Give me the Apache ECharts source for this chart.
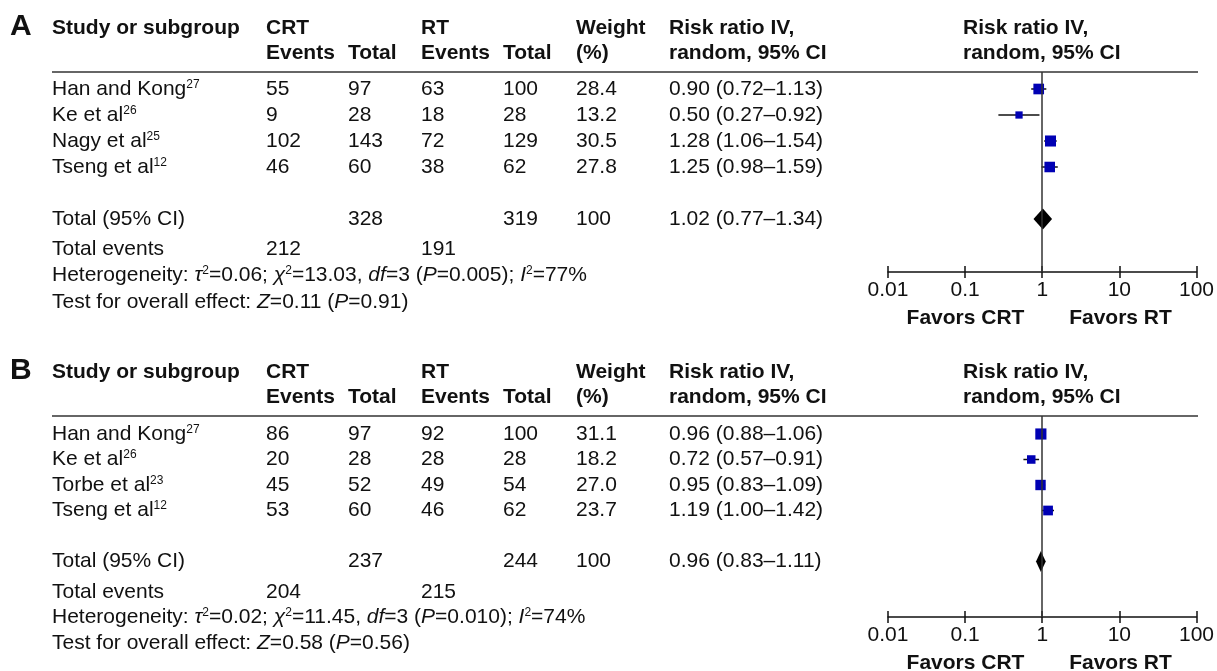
<!DOCTYPE html>
<html>
<head>
<meta charset="utf-8">
<script src="https://cdn.jsdelivr.net/npm/echarts@6/dist/echarts.min.js"></script>
<style>
html,body{margin:0;padding:0;background:#fff;}
#main{width:1217px;height:671px;}
</style>
</head>
<body>
<div id="main"></div>
<script>
// ---- panel A data
var studiesA = ['Han and Kong', 'Ke et al', 'Nagy et al', 'Tseng et al'];
var refsA = ['27', '26', '25', '12'];
var crtEventsA = [55, 9, 102, 46];
var crtTotalA = [97, 28, 143, 60];
var rtEventsA = [63, 18, 72, 38];
var rtTotalA = [100, 28, 129, 62];
var weightA = [28.4, 13.2, 30.5, 27.8];
var rrA = [0.90, 0.50, 1.28, 1.25];
var lowA = [0.72, 0.27, 1.06, 0.98];
var highA = [1.13, 0.92, 1.54, 1.59];
var totalA = {crtTotal: 328, rtTotal: 319, weight: 100, rr: 1.02, low: 0.77, high: 1.34, crtEvents: 212, rtEvents: 191};
var statsA = {tau2: '0.06', chi2: '13.03', df: 3, p: '0.005', i2: 77, z: '0.11', pz: '0.91'};

// ---- panel B data
var studiesB = ['Han and Kong', 'Ke et al', 'Torbe et al', 'Tseng et al'];
var refsB = ['27', '26', '23', '12'];
var crtEventsB = [86, 20, 45, 53];
var crtTotalB = [97, 28, 52, 60];
var rtEventsB = [92, 28, 49, 46];
var rtTotalB = [100, 28, 54, 62];
var weightB = [31.1, 18.2, 27.0, 23.7];
var rrB = [0.96, 0.72, 0.95, 1.19];
var lowB = [0.88, 0.57, 0.83, 1.00];
var highB = [1.06, 0.91, 1.09, 1.42];
var totalB = {crtTotal: 237, rtTotal: 244, weight: 100, rr: 0.96, low: 0.83, high: 1.11, crtEvents: 204, rtEvents: 215};
var statsB = {tau2: '0.02', chi2: '11.45', df: 3, p: '0.010', i2: 74, z: '0.58', pz: '0.56'};

var axisTicks = [0.01, 0.1, 1, 10, 100];

var FONT = '"Liberation Sans", Arial, Helvetica, sans-serif';
var INK = '#111';
var BLUE = '#0000b4';
var COL = {study: 52, crtE: 266, crtT: 348, rtE: 421, rtT: 503, weight: 576, rr: 669, plotHead: 963};
var PLOT_L = 888, PLOT_R = 1198, FS = 21;

var panels = [
	{letter: 'A', top: 72, axisY: 272, row0: 89, step: 26, statY: [249, 275, 302],
	 studies: studiesA, refs: refsA, crtE: crtEventsA, crtT: crtTotalA, rtE: rtEventsA, rtT: rtTotalA,
	 w: weightA, rr: rrA, lo: lowA, hi: highA, tot: totalA, st: statsA},
	{letter: 'B', top: 416, axisY: 617, row0: 434, step: 25.5, statY: [592, 617, 643],
	 studies: studiesB, refs: refsB, crtE: crtEventsB, crtT: crtTotalB, rtE: rtEventsB, rtT: rtTotalB,
	 w: weightB, rr: rrB, lo: lowB, hi: highB, tot: totalB, st: statsB}
];

function fmt2(v){ return v.toFixed(2); }
function ciText(r, l, h){ return fmt2(r) + ' (' + fmt2(l) + '\u2013' + fmt2(h) + ')'; }

var richBase = {
	n: {fontSize: FS, fontFamily: FONT, fill: INK, color: INK},
	i: {fontSize: FS, fontFamily: FONT, fontStyle: 'italic', fill: INK, color: INK},
	s: {fontSize: 12, fontFamily: FONT, fill: INK, color: INK, verticalAlign: 'top'}
};

function txt(x, y, s, bold, size){
	return {type: 'text', x: x, y: y, silent: true,
		style: {text: s, fill: INK, font: (bold ? 'bold ' : '') + (size || FS) + 'px ' + FONT, verticalAlign: 'middle', align: 'left'}};
}
function richTxt(x, y, s){
	return {type: 'text', x: x, y: y, silent: true,
		style: {text: s, fill: INK, fontSize: FS, fontFamily: FONT, verticalAlign: 'middle', align: 'left', rich: richBase}};
}

var option = {
	backgroundColor: '#fff',
	animation: false,
	grid: [], xAxis: [], yAxis: [], series: [], graphic: []
};

panels.forEach(function(p, gi){
	var yMin = (p.top - p.row0) / p.step, yMax = (p.axisY - p.row0) / p.step;
	var totRow = 5;
	option.grid.push({left: PLOT_L, width: PLOT_R - PLOT_L, top: p.top, height: p.axisY - p.top});
	option.yAxis.push({gridIndex: gi, type: 'value', inverse: true, min: yMin, max: yMax, show: false});
	option.xAxis.push({
		gridIndex: gi, type: 'log', logBase: 10, min: axisTicks[0], max: axisTicks[axisTicks.length - 1],
		splitNumber: axisTicks.length - 1, position: 'bottom',
		axisLine: {onZero: false, lineStyle: {color: INK, width: 1.5}},
		axisTick: {length: 6, lineStyle: {color: INK, width: 1.5}},
		minorTick: {show: false}, splitLine: {show: false},
		axisLabel: {fontSize: FS, fontFamily: FONT, color: INK, margin: 8,
			formatter: function(v){ return String(Number(v.toPrecision(2))); }}
	});
	// second axis only for the upward half of the ticks
	option.xAxis.push({
		gridIndex: gi, type: 'log', logBase: 10, min: axisTicks[0], max: axisTicks[axisTicks.length - 1],
		splitNumber: axisTicks.length - 1, position: 'bottom',
		axisLine: {show: false, onZero: false}, axisLabel: {show: false}, splitLine: {show: false},
		axisTick: {inside: true, length: 6, lineStyle: {color: INK, width: 1.5}}
	});
	var xi = gi * 2;

	// confidence interval whiskers
	option.series.push({
		type: 'custom', xAxisIndex: xi, yAxisIndex: gi, silent: true, z: 2,
		data: p.rr.map(function(r, k){ return [p.lo[k], p.hi[k], k]; }),
		encode: {x: [0, 1], y: 2},
		renderItem: function(params, api){
			var a = api.coord([api.value(0), api.value(2)]);
			var b = api.coord([api.value(1), api.value(2)]);
			return {type: 'line', shape: {x1: a[0], y1: a[1], x2: b[0], y2: b[1]}, style: {stroke: INK, lineWidth: 1.5}};
		}
	});
	// study squares + reference line at 1
	option.series.push({
		type: 'scatter', xAxisIndex: xi, yAxisIndex: gi, silent: true, z: 3,
		symbol: 'rect',
		symbolSize: function(v){ return 2 * Math.sqrt(v[2]); },
		itemStyle: {color: BLUE, opacity: 1},
		data: p.rr.map(function(r, k){ return [r, k, p.w[k]]; }),
		markLine: {silent: true, symbol: 'none', label: {show: false},
			lineStyle: {color: '#333', width: 1.5, type: 'solid'},
			data: [{xAxis: 1}]}
	});
	// pooled diamond
	option.series.push({
		type: 'custom', xAxisIndex: xi, yAxisIndex: gi, silent: true, z: 4,
		data: [[p.tot.low, p.tot.rr, p.tot.high, totRow]],
		encode: {x: [0, 1, 2], y: 3},
		renderItem: function(params, api){
			var l = api.coord([api.value(0), api.value(3)]);
			var c = api.coord([api.value(1), api.value(3)]);
			var r = api.coord([api.value(2), api.value(3)]);
			var h = 10.5;
			return {type: 'polygon', shape: {points: [[l[0], c[1]], [c[0], c[1] - h], [r[0], c[1]], [c[0], c[1] + h]]},
				style: {fill: '#000'}};
		}
	});
	// table rows, aligned to the same rows
	var rows = p.studies.map(function(s, k){
		return {name: '{n|' + s + '}{s|' + p.refs[k] + '}', cells: [p.crtE[k], p.crtT[k], p.rtE[k], p.rtT[k], p.w[k].toFixed(1), ciText(p.rr[k], p.lo[k], p.hi[k])], row: k};
	});
	rows.push({name: '{n|Total (95% CI)}', cells: ['', p.tot.crtTotal, '', p.tot.rtTotal, String(p.tot.weight), ciText(p.tot.rr, p.tot.low, p.tot.high)], row: totRow});
	option.series.push({
		type: 'custom', xAxisIndex: xi, yAxisIndex: gi, silent: true, clip: false,
		data: rows.map(function(r){ return [1, r.row]; }),
		encode: {x: 0, y: 1},
		renderItem: function(params, api){
			var y = api.coord([1, api.value(1)])[1];
			var r = rows[params.dataIndex];
			var xs = [COL.crtE, COL.crtT, COL.rtE, COL.rtT, COL.weight, COL.rr];
			var kids = [{type: 'text', x: COL.study, y: y,
				style: {text: r.name, fontSize: FS, fontFamily: FONT, fill: INK, verticalAlign: 'middle', rich: richBase}}];
			r.cells.forEach(function(c, j){
				kids.push({type: 'text', x: xs[j], y: y,
					style: {text: String(c), font: FS + 'px ' + FONT, fill: INK, verticalAlign: 'middle'}});
			});
			return {type: 'group', children: kids};
		}
	});

	// headers and text blocks
	var l1 = p.top - 44, l2 = p.top - 19;
	var G = option.graphic;
	G.push(txt(10, l1 - 1, p.letter, true, 30));
	G.push(txt(COL.study, l1, 'Study or subgroup', true));
	G.push(txt(COL.crtE, l1, 'CRT', true));
	G.push(txt(COL.crtE, l2, 'Events', true));
	G.push(txt(COL.crtT, l2, 'Total', true));
	G.push(txt(COL.rtE, l1, 'RT', true));
	G.push(txt(COL.rtE, l2, 'Events', true));
	G.push(txt(COL.rtT, l2, 'Total', true));
	G.push(txt(COL.weight, l1, 'Weight', true));
	G.push(txt(COL.weight, l2, '(%)', true));
	G.push(txt(COL.rr, l1, 'Risk ratio IV,', true));
	G.push(txt(COL.rr, l2, 'random, 95% CI', true));
	G.push(txt(COL.plotHead, l1, 'Risk ratio IV,', true));
	G.push(txt(COL.plotHead, l2, 'random, 95% CI', true));
	G.push({type: 'line', silent: true, shape: {x1: COL.study, y1: p.top, x2: PLOT_R, y2: p.top},
		style: {stroke: '#333', lineWidth: 1.5}});

	G.push(txt(COL.study, p.statY[0], 'Total events'));
	G.push(txt(COL.crtE, p.statY[0], String(p.tot.crtEvents)));
	G.push(txt(COL.rtE, p.statY[0], String(p.tot.rtEvents)));
	var st = p.st;
	G.push(richTxt(COL.study, p.statY[1],
		'{n|Heterogeneity: }{i|\u03c4}{s|2}{n|=' + st.tau2 + '; }{i|\u03c7}{s|2}{n|=' + st.chi2 + ', }{i|df}{n|=' + st.df +
		' (}{i|P}{n|=' + st.p + '); }{i|I}{s|2}{n|=' + st.i2 + '%}'));
	G.push(richTxt(COL.study, p.statY[2],
		'{n|Test for overall effect: }{i|Z}{n|=' + st.z + ' (}{i|P}{n|=' + st.pz + ')}'));

	var fy = p.axisY + 46;
	var midL = (PLOT_L + (PLOT_L + PLOT_R) / 2) / 2, midR = ((PLOT_L + PLOT_R) / 2 + PLOT_R) / 2;
	G.push({type: 'text', x: midL, y: fy, silent: true,
		style: {text: 'Favors CRT', font: 'bold ' + FS + 'px ' + FONT, fill: INK, align: 'center', verticalAlign: 'middle'}});
	G.push({type: 'text', x: midR, y: fy, silent: true,
		style: {text: 'Favors RT', font: 'bold ' + FS + 'px ' + FONT, fill: INK, align: 'center', verticalAlign: 'middle'}});
});

var myChart = echarts.init(document.getElementById('main'));
myChart.setOption(option);
</script>
</body>
</html>
